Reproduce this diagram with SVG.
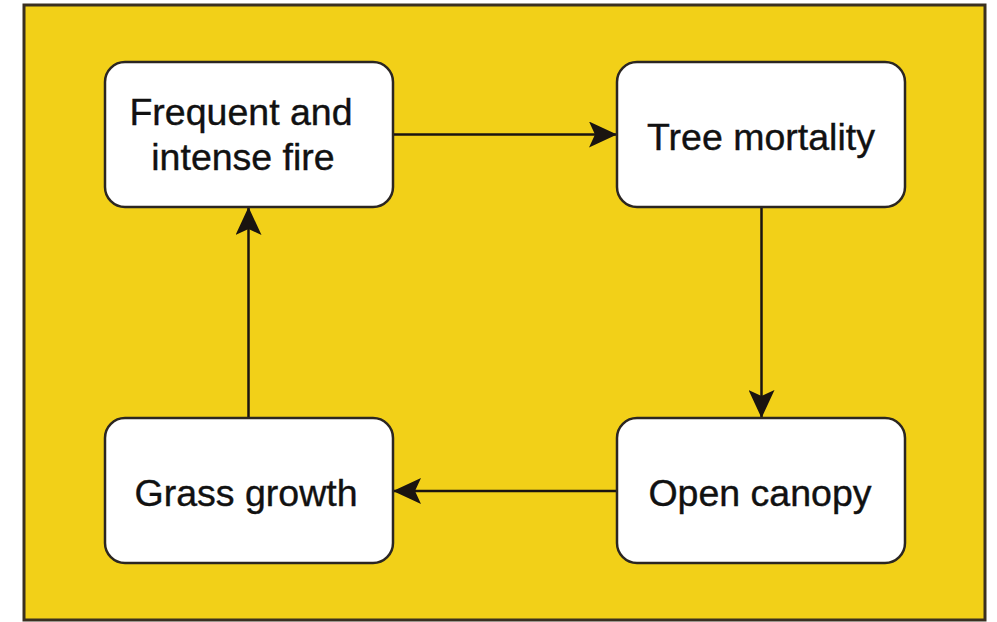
<svg xmlns="http://www.w3.org/2000/svg" width="997" height="622" viewBox="0 0 997 622">
<style>
.node rect{fill:#ffffff;stroke:#2b2622;stroke-width:2.5}
.node text{font-family:"Liberation Sans",Arial,sans-serif;font-size:37.5px;fill:#111;stroke:#111;stroke-width:0.4;text-anchor:middle}
.conn line{stroke:#1a1410;stroke-width:2.5}
</style>
<defs>
<marker id="ah" viewBox="0 0 28 26" refX="27" refY="13" markerWidth="28" markerHeight="26" markerUnits="userSpaceOnUse" orient="auto">
<path d="M0,0 L28,13 L0,26 L6,13 Z" fill="#1a1410"/>
</marker>
</defs>
<rect x="0" y="0" width="997" height="622" fill="#ffffff"/>
<rect x="24" y="5" width="961" height="615" fill="#F2D018" stroke="#3a3020" stroke-width="3"/>
<g class="conn">
<line x1="393" y1="134.5" x2="616" y2="134.5" marker-end="url(#ah)"/>
<line x1="761.5" y1="207" x2="761.5" y2="417" marker-end="url(#ah)"/>
<line x1="617" y1="491" x2="394" y2="491" marker-end="url(#ah)"/>
<line x1="248.5" y1="418" x2="248.5" y2="208" marker-end="url(#ah)"/>
</g>
<g id="n-fire" class="node">
<rect x="105" y="62" width="288" height="145" rx="20" ry="20"/>
<text x="241" y="125">Frequent and</text>
<text x="243" y="170">intense fire</text>
</g>
<g id="n-tree" class="node">
<rect x="617" y="62" width="288" height="145" rx="20" ry="20"/>
<text x="761" y="150">Tree mortality</text>
</g>
<g id="n-grass" class="node">
<rect x="105" y="418" width="288" height="145" rx="20" ry="20"/>
<text x="246" y="506">Grass growth</text>
</g>
<g id="n-open" class="node">
<rect x="617" y="418" width="288" height="145" rx="20" ry="20"/>
<text x="760" y="506">Open canopy</text>
</g>
</svg>
